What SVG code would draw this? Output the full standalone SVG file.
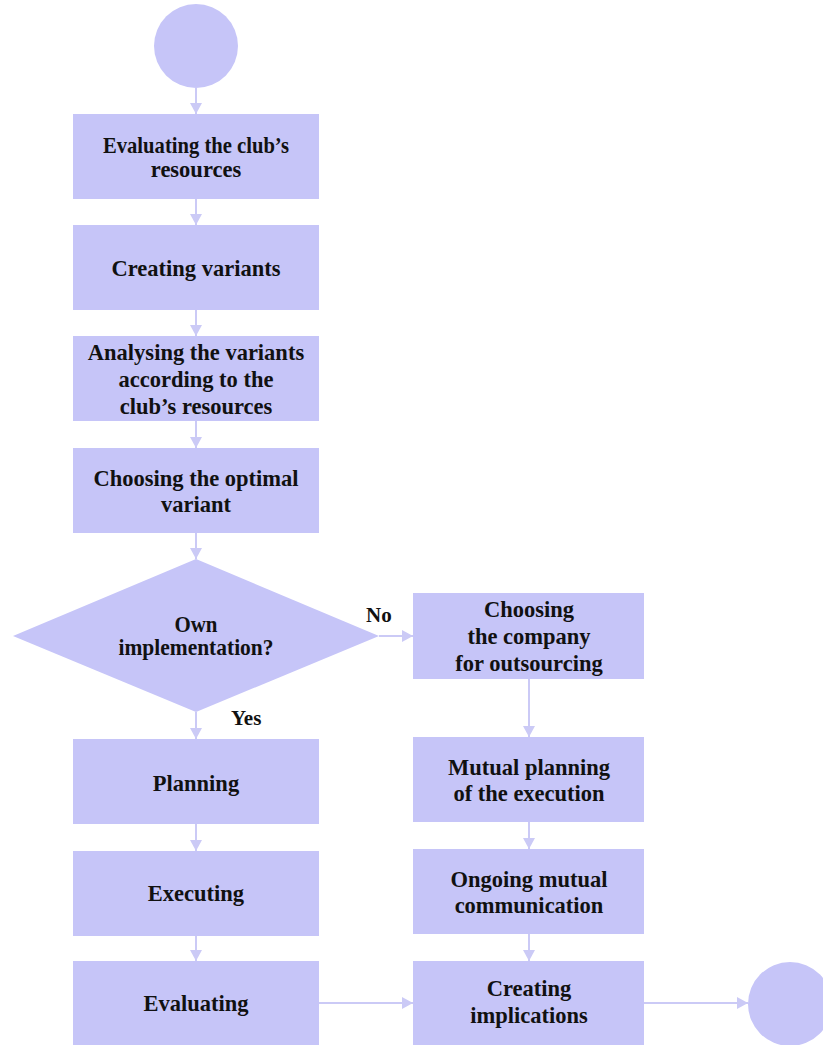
<svg xmlns="http://www.w3.org/2000/svg" width="823" height="1045" viewBox="0 0 823 1045">
<style>
.n{fill:#c6c5f8}
.t{font-family:"Liberation Serif","Times New Roman",serif;font-weight:bold;font-size:22.5px;fill:#111;text-anchor:middle}
.l{font-family:"Liberation Serif","Times New Roman",serif;font-weight:bold;font-size:21px;fill:#111}
.c{stroke:#cbcaf6;stroke-width:2;fill:none;marker-end:url(#ah)}
</style>
<defs>
<marker id="ah" markerUnits="userSpaceOnUse" markerWidth="12" markerHeight="12" refX="11" refY="6" orient="auto">
<path d="M0,0 L11,6 L0,12 z" fill="#cbcaf6"/>
</marker>
</defs>
<rect width="823" height="1045" fill="#ffffff"/>
<g id="connectors">
<line class="c" x1="196" y1="88" x2="196" y2="114"/>
<line class="c" x1="196" y1="199" x2="196" y2="225"/>
<line class="c" x1="196" y1="310" x2="196" y2="336"/>
<line class="c" x1="196" y1="421" x2="196" y2="448"/>
<line class="c" x1="196" y1="533" x2="196" y2="559"/>
<line class="c" x1="196" y1="712" x2="196" y2="739"/>
<line class="c" x1="196" y1="824" x2="196" y2="851"/>
<line class="c" x1="196" y1="936" x2="196" y2="961"/>
<line class="c" x1="379" y1="636" x2="413" y2="636"/>
<line class="c" x1="529" y1="679" x2="529" y2="737"/>
<line class="c" x1="529" y1="822" x2="529" y2="849"/>
<line class="c" x1="529" y1="934" x2="529" y2="961"/>
<line class="c" x1="319" y1="1003" x2="413" y2="1003"/>
<line class="c" x1="644" y1="1003" x2="748" y2="1003"/>
<text class="l" x="366" y="622">No</text>
<text class="l" x="231" y="725">Yes</text>
</g>
<g id="start"><circle class="n" cx="196" cy="46" r="42"/></g>
<g id="evaluating-resources"><rect class="n" x="73" y="114" width="246" height="85"/>
<text class="t" x="196" y="153" textLength="186" lengthAdjust="spacingAndGlyphs">Evaluating the club’s</text><text class="t" x="196" y="177">resources</text></g>
<g id="creating-variants"><rect class="n" x="73" y="225" width="246" height="85"/>
<text class="t" x="196" y="276">Creating variants</text></g>
<g id="analysing"><rect class="n" x="73" y="336" width="246" height="85"/>
<text class="t" x="196" y="360">Analysing the variants</text><text class="t" x="196" y="387">according to the</text><text class="t" x="196" y="414">club’s resources</text></g>
<g id="choosing-optimal"><rect class="n" x="73" y="448" width="246" height="85"/>
<text class="t" x="196" y="486">Choosing the optimal</text><text class="t" x="196" y="512">variant</text></g>
<g id="decision"><polygon class="n" points="196,559 379,636 196,712 13,636"/>
<text class="t" x="196" y="632" textLength="43" lengthAdjust="spacingAndGlyphs">Own</text><text class="t" x="196" y="655" textLength="155" lengthAdjust="spacingAndGlyphs">implementation?</text></g>
<g id="planning"><rect class="n" x="73" y="739" width="246" height="85"/>
<text class="t" x="196" y="791">Planning</text></g>
<g id="executing"><rect class="n" x="73" y="851" width="246" height="85"/>
<text class="t" x="196" y="901">Executing</text></g>
<g id="evaluating"><rect class="n" x="73" y="961" width="246" height="85"/>
<text class="t" x="196" y="1011">Evaluating</text></g>
<g id="choosing-company"><rect class="n" x="413" y="593" width="231" height="86"/>
<text class="t" x="529" y="617">Choosing</text><text class="t" x="529" y="644">the company</text><text class="t" x="529" y="671">for outsourcing</text></g>
<g id="mutual-planning"><rect class="n" x="413" y="737" width="231" height="85"/>
<text class="t" x="529" y="775">Mutual planning</text><text class="t" x="529" y="801">of the execution</text></g>
<g id="ongoing"><rect class="n" x="413" y="849" width="231" height="85"/>
<text class="t" x="529" y="887">Ongoing mutual</text><text class="t" x="529" y="913">communication</text></g>
<g id="creating-implications"><rect class="n" x="413" y="961" width="231" height="85"/>
<text class="t" x="529" y="996">Creating</text><text class="t" x="529" y="1023">implications</text></g>
<g id="end"><circle class="n" cx="790" cy="1004" r="42"/></g>
</svg>
